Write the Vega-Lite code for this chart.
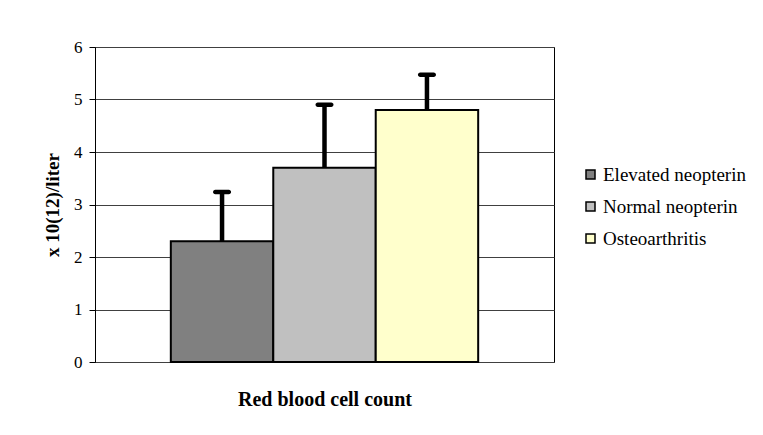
{
  "$schema": "https://vega.github.io/schema/vega-lite/v6.json",
  "autosize": "none",
  "width": 459,
  "height": 315,
  "padding": {"left": 95, "top": 47, "right": 209, "bottom": 73},
  "background": "white",
  "data": {
    "values": [
      {"group": "Elevated neopterin", "value": 2.3, "upper": 3.24},
      {"group": "Normal neopterin", "value": 3.7, "upper": 4.9},
      {"group": "Osteoarthritis", "value": 4.8, "upper": 5.47}
    ]
  },
  "encoding": {
    "x": {
      "field": "group",
      "type": "nominal",
      "sort": null,
      "scale": {"paddingInner": 0, "paddingOuter": 0.74},
      "axis": {
        "title": "Red blood cell count",
        "labels": false,
        "ticks": false,
        "domain": true,
        "domainColor": "#404040",
        "titleFont": "Liberation Serif",
        "titleFontSize": 20,
        "titleFontWeight": "bold",
        "titleColor": "#000",
        "titlePadding": 27
      }
    }
  },
  "layer": [
    {
      "mark": {"type": "bar", "stroke": "#000", "strokeWidth": 2},
      "encoding": {
        "y": {
          "field": "value",
          "type": "quantitative",
          "scale": {"domain": [0, 6], "nice": false},
          "axis": {
            "title": "x 10(12)/liter",
            "values": [0, 1, 2, 3, 4, 5, 6],
            "grid": true,
            "gridColor": "#404040",
            "gridWidth": 1,
            "domainColor": "#000",
            "tickColor": "#000",
            "tickSize": 6,
            "labelPadding": 7,
            "labelFont": "Liberation Serif",
            "labelFontSize": 17,
            "labelColor": "#000",
            "titleFont": "Liberation Serif",
            "titleFontSize": 19,
            "titleFontWeight": "bold",
            "titleColor": "#000",
            "titlePadding": 11
          }
        },
        "color": {
          "field": "group",
          "type": "nominal",
          "sort": null,
          "scale": {"range": ["#808080", "#C0C0C0", "#FFFFCC"]},
          "legend": {
            "title": null,
            "orient": "none",
            "legendX": 486,
            "legendY": 118,
            "padding": 0,
            "symbolType": "square",
            "symbolSize": 81,
            "symbolStrokeColor": "#000",
            "symbolStrokeWidth": 1.5,
            "symbolOpacity": 1,
            "labelFont": "Liberation Serif",
            "labelFontSize": 19,
            "labelColor": "#000",
            "labelOffset": 3,
            "rowPadding": 12
          }
        }
      }
    },
    {
      "mark": {"type": "rule", "color": "#000", "strokeWidth": 4.5},
      "encoding": {
        "y": {"field": "value", "type": "quantitative"},
        "y2": {"field": "upper"}
      }
    },
    {
      "mark": {"type": "tick", "color": "#000", "size": 18, "thickness": 4.5, "cornerRadius": 2.25, "opacity": 1},
      "encoding": {
        "y": {"field": "upper", "type": "quantitative"}
      }
    }
  ],
  "config": {
    "view": {"stroke": "#000", "strokeWidth": 1},
    "font": "Liberation Serif"
  }
}
